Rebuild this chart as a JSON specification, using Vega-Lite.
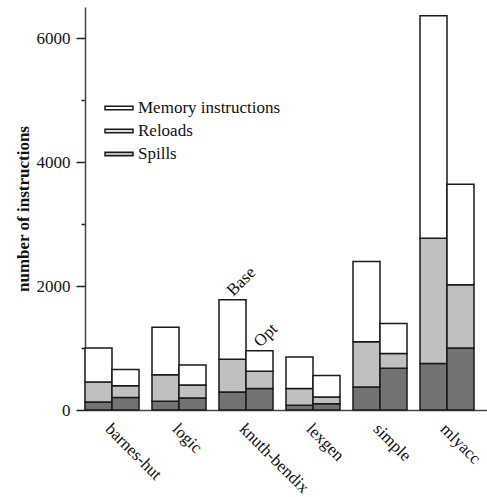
{
  "$schema": "https://vega.github.io/schema/vega-lite/v6.json",
  "width": 402,
  "height": 403,
  "autosize": {"type": "none"},
  "padding": {"left": 85, "top": 7, "right": 0, "bottom": 87},
  "background": "white",
  "config": {
    "view": {"stroke": null},
    "font": "Liberation Serif"
  },
  "data": {
    "values": [
      {"bench": "barnes-hut", "version": "Base", "type": "Spills", "value": 130},
      {"bench": "barnes-hut", "version": "Base", "type": "Reloads", "value": 320},
      {"bench": "barnes-hut", "version": "Base", "type": "Memory instructions", "value": 550},
      {"bench": "barnes-hut", "version": "Opt", "type": "Spills", "value": 200},
      {"bench": "barnes-hut", "version": "Opt", "type": "Reloads", "value": 190},
      {"bench": "barnes-hut", "version": "Opt", "type": "Memory instructions", "value": 265},
      {"bench": "logic", "version": "Base", "type": "Spills", "value": 140},
      {"bench": "logic", "version": "Base", "type": "Reloads", "value": 430},
      {"bench": "logic", "version": "Base", "type": "Memory instructions", "value": 765},
      {"bench": "logic", "version": "Opt", "type": "Spills", "value": 195},
      {"bench": "logic", "version": "Opt", "type": "Reloads", "value": 210},
      {"bench": "logic", "version": "Opt", "type": "Memory instructions", "value": 320},
      {"bench": "knuth-bendix", "version": "Base", "type": "Spills", "value": 290},
      {"bench": "knuth-bendix", "version": "Base", "type": "Reloads", "value": 530},
      {"bench": "knuth-bendix", "version": "Base", "type": "Memory instructions", "value": 960},
      {"bench": "knuth-bendix", "version": "Opt", "type": "Spills", "value": 345},
      {"bench": "knuth-bendix", "version": "Opt", "type": "Reloads", "value": 280},
      {"bench": "knuth-bendix", "version": "Opt", "type": "Memory instructions", "value": 330},
      {"bench": "lexgen", "version": "Base", "type": "Spills", "value": 75},
      {"bench": "lexgen", "version": "Base", "type": "Reloads", "value": 270},
      {"bench": "lexgen", "version": "Base", "type": "Memory instructions", "value": 510},
      {"bench": "lexgen", "version": "Opt", "type": "Spills", "value": 100},
      {"bench": "lexgen", "version": "Opt", "type": "Reloads", "value": 110},
      {"bench": "lexgen", "version": "Opt", "type": "Memory instructions", "value": 345},
      {"bench": "simple", "version": "Base", "type": "Spills", "value": 370},
      {"bench": "simple", "version": "Base", "type": "Reloads", "value": 730},
      {"bench": "simple", "version": "Base", "type": "Memory instructions", "value": 1295},
      {"bench": "simple", "version": "Opt", "type": "Spills", "value": 675},
      {"bench": "simple", "version": "Opt", "type": "Reloads", "value": 235},
      {"bench": "simple", "version": "Opt", "type": "Memory instructions", "value": 485},
      {"bench": "mlyacc", "version": "Base", "type": "Spills", "value": 750},
      {"bench": "mlyacc", "version": "Base", "type": "Reloads", "value": 2020},
      {"bench": "mlyacc", "version": "Base", "type": "Memory instructions", "value": 3590},
      {"bench": "mlyacc", "version": "Opt", "type": "Spills", "value": 1000},
      {"bench": "mlyacc", "version": "Opt", "type": "Reloads", "value": 1020},
      {"bench": "mlyacc", "version": "Opt", "type": "Memory instructions", "value": 1620}
    ]
  },
  "encoding": {
    "x": {
      "field": "bench",
      "type": "nominal",
      "sort": ["barnes-hut", "logic", "knuth-bendix", "lexgen", "simple", "mlyacc"],
      "scale": {"paddingInner": 0.194, "paddingOuter": 0.097, "align": 0},
      "axis": {
        "title": null,
        "ticks": false,
        "domainColor": "#444444",
        "domainWidth": 1.5,
        "labelAngle": 45,
        "labelAlign": "left",
        "labelBaseline": "middle",
        "labelPadding": 16,
        "labelOffset": -4,
        "labelFont": "Liberation Serif",
        "labelFontSize": 17,
        "labelColor": "#111111"
      }
    },
    "xOffset": {
      "field": "version",
      "type": "nominal",
      "scale": {"domain": ["Base", "Opt"], "paddingInner": 0, "paddingOuter": 0}
    }
  },
  "layer": [
    {
      "mark": {"type": "bar", "stroke": "#1a1a1a", "strokeWidth": 1.5},
      "encoding": {
        "y": {
          "field": "value",
          "type": "quantitative",
          "aggregate": "sum",
          "stack": "zero",
          "scale": {"domain": [0, 6500], "nice": false},
          "axis": {
            "title": "number of instructions",
            "titleFont": "Liberation Serif",
            "titleFontSize": 17,
            "titleFontWeight": "bold",
            "titleColor": "#111111",
            "titlePadding": 4,
            "grid": false,
            "values": [0, 1000, 2000, 3000, 4000, 5000, 6000],
            "labelExpr": "datum.value % 2000 === 0 ? datum.label : ''",
            "format": "d",
            "domainColor": "#444444",
            "domainWidth": 1.5,
            "tickColor": "#222222",
            "tickWidth": 1.5,
            "tickSize": {"condition": {"test": "datum.value % 2000 === 0", "value": 9}, "value": 4},
            "labelPadding": 6,
            "labelFont": "Liberation Serif",
            "labelFontSize": 17,
            "labelColor": "#111111"
          }
        },
        "color": {
          "field": "type",
          "type": "nominal",
          "scale": {
            "domain": ["Memory instructions", "Reloads", "Spills"],
            "range": ["#ffffff", "#c0c0c0", "#737373"]
          },
          "legend": {
            "title": null,
            "orient": "none",
            "legendX": 19,
            "legendY": 86,
            "padding": 0,
            "symbolType": "M-1,-0.13H1V0.13H-1Z",
            "symbolSize": 784,
            "symbolStrokeColor": "#1a1a1a",
            "symbolStrokeWidth": 1.5,
            "symbolOpacity": 1,
            "labelFont": "Liberation Serif",
            "labelFontSize": 17,
            "labelColor": "#111111",
            "labelOffset": 4,
            "rowPadding": -8,
            "encode": {
              "symbols": {
                "update": {
                  "fillOpacity": {"value": 0.52},
                  "stroke": {"value": "#1a1a1a"},
                  "strokeWidth": {"value": 1.5},
                  "opacity": {"value": 1}
                }
              }
            }
          }
        },
        "order": {"field": "type", "sort": "descending"}
      }
    },
    {
      "transform": [
        {"filter": "datum.bench === 'knuth-bendix'"},
        {"aggregate": [{"op": "sum", "field": "value", "as": "total"}], "groupby": ["bench", "version"]}
      ],
      "mark": {
        "type": "text",
        "angle": -45,
        "align": "left",
        "baseline": "alphabetic",
        "dx": 2.5,
        "dy": -1.5,
        "font": "Liberation Serif",
        "fontSize": 17,
        "color": "#111111"
      },
      "encoding": {
        "y": {"field": "total", "type": "quantitative"},
        "text": {"field": "version"}
      }
    }
  ]
}
